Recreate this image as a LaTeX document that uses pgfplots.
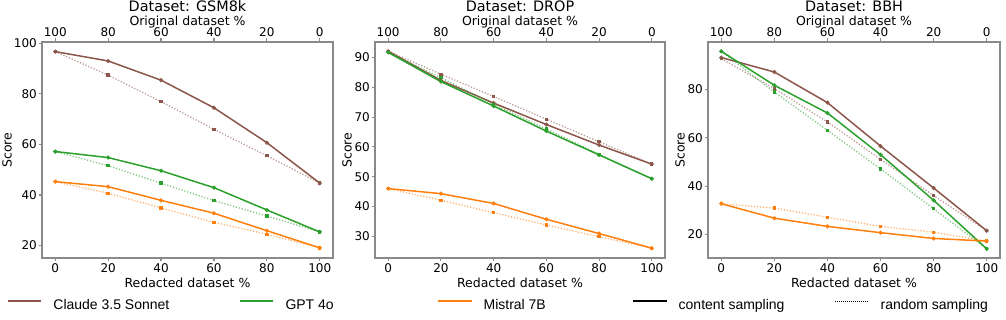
\documentclass[border=0pt]{standalone}
\usepackage{fontspec}
\setmainfont{DejaVu Sans}
\newfontfamily\legfont{Liberation Sans}
\usepackage{pgfplots}
\pgfplotsset{compat=1.18}
\usepackage{pgfplotstable}

\definecolor{brownc}{HTML}{8C564B}
\definecolor{greenc}{HTML}{2CA02C}
\definecolor{orangec}{HTML}{FF7F0E}
\definecolor{spine}{HTML}{8A8A8A}

% columns: redacted %, claude content/random, gpt content/random, mistral content/random
\pgfplotstableread{
x   cc    cr    gc    gr    mc    mr
0   96.7  96.7  57.2  57.2  45.3  45.3
20  93.0  87.4  54.8  51.6  43.3  40.7
40  85.4  76.9  49.6  44.7  37.9  34.9
60  74.5  66.0  42.9  37.8  32.8  29.2
80  60.7  55.5  34.1  31.7  25.9  24.5
100 44.7  44.7  25.4  25.4  19.1  19.1
}\gsm
\pgfplotstableread{
x   cc    cr    gc    gr    mc    mr
0   92.1  92.1  91.7  91.7  46.0  46.0
20  82.3  84.4  81.9  83.2  44.3  42.1
40  74.7  76.9  73.7  74.3  41.0  37.9
60  67.5  69.3  65.3  66.0  35.7  33.8
80  60.6  61.7  57.3  57.5  30.9  29.8
100 54.2  54.2  49.3  49.3  26.0  26.0
}\drop
\pgfplotstableread{
x   cc    cr    gc    gr    mc    mr
0   93.3  92.8  95.9  95.9  32.7  32.7
20  87.3  80.4  81.8  79.0  26.7  30.9
40  74.6  66.6  70.3  63.1  23.3  27.1
60  56.6  51.1  53.0  47.1  20.7  23.3
80  39.2  36.1  34.1  30.6  18.3  20.9
100 21.5  21.5  14.0  14.0  17.2  17.2
}\bbh

\newcommand{\ticksize}{\fontsize{12}{14}\selectfont}
\newcommand{\labsize}{\fontsize{12.5}{15}\selectfont}

\pgfplotsset{
  base/.style={scale only axis, height=216pt, anchor=south west,
    xmin=-5, xmax=105,
    /pgf/number format/assume math mode=true,
    tick label style={font=\ticksize},
    label style={font=\labsize},
    axis line style={spine, line width=1.1pt},
    tick style={spine, line width=1.1pt},
    major tick length=3.5pt, tick align=outside},
  pnl/.style={base, xtick={0,20,...,100}, xtick pos=bottom, ytick pos=left,
    xlabel={Redacted dataset \%}, ylabel={Score},
    xlabel style={at={(axis description cs:0.5,0)}, anchor=base, yshift=-30pt},
    ylabel style={at={(axis description cs:#1,0.5)}, anchor=center},
    xticklabel style={inner sep=0pt}, yticklabel style={inner sep=0pt},
    xticklabel shift=1.5pt, yticklabel shift=1.5pt},
  topax/.style={base, ymin=0, ymax=1, axis x line*=top, axis y line=none,
    xtick={0,20,...,100}, xticklabels={100,80,60,40,20,0},
    xlabel={Original dataset \%},
    xlabel style={at={(axis description cs:0.5,1)}, anchor=base, yshift=16pt},
    title style={at={(axis description cs:0.5,1)}, anchor=base, yshift=24.3pt,
      font=\fontsize{14.4}{17}\selectfont},
    xticklabel style={inner sep=0pt}, xticklabel shift=2pt},
  csamp/.style={line width=1.5pt, mark=*, mark size=1.2pt, forget plot},
  rsamp/.style={line width=1.3pt, dash pattern=on 1.2pt off 1.8pt, draw opacity=0.6,
    mark=square*, mark size=1pt, mark options={solid, opacity=1}, forget plot},
}

\newcommand{\series}[1]{%
  \addplot[csamp, brownc] table[x=x, y=cc] {#1};
  \addplot[rsamp, brownc] table[x=x, y=cr] {#1};
  \addplot[csamp, greenc] table[x=x, y=gc] {#1};
  \addplot[rsamp, greenc] table[x=x, y=gr] {#1};
  \addplot[csamp, orangec] table[x=x, y=mc] {#1};
  \addplot[rsamp, orangec] table[x=x, y=mr] {#1};
}

\begin{document}
\begin{tikzpicture}
\useasboundingbox (0,0) rectangle (1006pt,320pt);

% GSM8k
\begin{axis}[pnl=-0.1203, at={(42pt,62pt)}, width=291pt,
  ymin=15.1, ymax=100.5, ytick={20,40,...,100},
  legend columns=5, legend cell align=left,
  legend style={at={(axis description cs:-0.1192,-0.2199)}, anchor=west,
    draw=none, fill=none, inner sep=0pt, outer sep=0pt, column sep=0pt,
    font=\legfont\fontsize{14}{16}\selectfont,
    nodes={inner sep=0pt, outer sep=0pt}},
  legend image code/.code={\draw[#1] (0pt,4.5pt) -- (33.5pt,4.5pt);}]
\series{\gsm}
\addlegendimage{brownc, line width=1.1pt}
\addlegendentry{\hspace*{11.5pt}\makebox[186pt][l]{Claude 3.5 Sonnet}}
\addlegendimage{greenc, line width=1.1pt}
\addlegendentry{\hspace*{11.5pt}\makebox[152pt][l]{GPT 4o}}
\addlegendimage{orangec, line width=1.1pt}
\addlegendentry{\hspace*{11.5pt}\makebox[149pt][l]{Mistral 7B}}
\addlegendimage{black, line width=1.1pt}
\addlegendentry{\hspace*{11.5pt}\makebox[156pt][l]{content sampling}}
\addlegendimage{black, line width=0.9pt, dash pattern=on 0.9pt off 1.1pt}
\addlegendentry{\hspace*{11.5pt}random sampling}
\end{axis}
\begin{axis}[topax, at={(42pt,62pt)}, width=291pt, title={Dataset: GSM8k}]
\end{axis}

% DROP
\begin{axis}[pnl=-0.0966, at={(375pt,62pt)}, width=290pt,
  ymin=22.7, ymax=95.2, ytick={30,40,...,90}]
\series{\drop}
\end{axis}
\begin{axis}[topax, at={(375pt,62pt)}, width=290pt, title={Dataset: DROP}]
\end{axis}

% BBH
\begin{axis}[pnl=-0.0959, at={(708pt,62pt)}, width=292pt,
  ymin=10.2, ymax=99.75, ytick={20,40,60,80}]
\series{\bbh}
\end{axis}
\begin{axis}[topax, at={(708pt,62pt)}, width=292pt, title={Dataset: BBH}]
\end{axis}
\end{tikzpicture}
\end{document}
